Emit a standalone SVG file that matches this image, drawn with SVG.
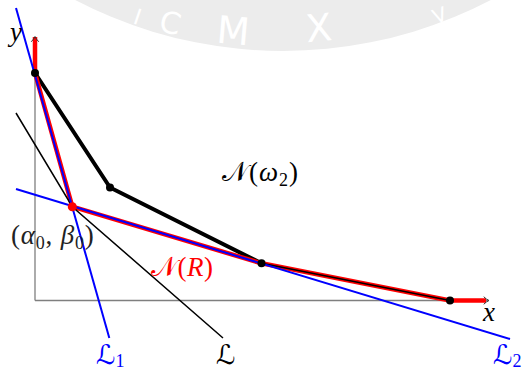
<svg xmlns="http://www.w3.org/2000/svg" width="522" height="374" viewBox="0 0 522 374">
<style>
.wm{font-family:"DejaVu Sans",sans-serif;fill:#ffffff;text-anchor:middle}
.axis{stroke:#7f7f7f;stroke-width:1.3;fill:none}
.arr{stroke:#333;stroke-width:1;fill:none;stroke-linecap:round}
.nr{stroke:#ff0000;stroke-width:4.5;fill:none;stroke-linejoin:round}
.nw{stroke:#000;stroke-width:4;fill:none;stroke-linejoin:round}
.thin{stroke:#000;stroke-width:1.5;fill:none}
.blue{stroke:#0000ff;stroke-width:2;fill:none}
.lab{font-family:"Liberation Serif","DejaVu Serif",serif;font-size:27px;font-style:italic}
.cal{font-family:"DejaVu Serif","DejaVu Sans",serif;font-style:normal}
.up{font-style:normal}
</style>
<rect width="522" height="374" fill="#ffffff"/>
<g id="watermark">
<circle cx="283" cy="-398" r="449" fill="#ececec"/>
<text class="wm" font-size="22" transform="translate(135,24) rotate(19)">I</text>
<text class="wm" font-size="30" transform="translate(168,33) rotate(13)">C</text>
<text class="wm" font-size="38" transform="translate(232,44) rotate(5)">M</text>
<text class="wm" font-size="38" transform="translate(320,41) rotate(-5)">X</text>
<text class="wm" font-size="20" transform="translate(442,22) rotate(-20)">V</text>
</g>
<g id="axes">
<line class="axis" x1="35" y1="300.5" x2="35" y2="37"/>
<line class="axis" x1="35" y1="300.5" x2="488" y2="300.5"/>
</g>
<g id="connectors">
<polyline id="N_omega2" class="nw" points="35,73 110,187.5 261.5,263.3"/>
<polyline id="N_R" class="nr" points="35,37 35,73 72.3,206.7 261.5,263.3 450,300.5 486,300.5"/>
<line class="thin" x1="261.5" y1="263.3" x2="450" y2="300.5" stroke-width="1.2"/>
<polyline id="L" class="thin" points="16,113 72.3,206.7 223,338"/>
<line id="L1" class="blue" x1="16" y1="8" x2="109.3" y2="338"/>
<line id="L2" class="blue" x1="16" y1="189" x2="510" y2="339"/>
<path class="arr" d="M31.5,41.5 Q34,39 35,36.5 Q36,39 38.5,41.5"/>
<path class="arr" d="M484,297 Q486.5,299.5 489,300.5 Q486.5,301.5 484,304"/>
</g>
<g id="points">
<circle cx="35" cy="73" r="4" fill="#000"/>
<circle cx="110" cy="187.5" r="4" fill="#000"/>
<circle cx="261.5" cy="263.3" r="4" fill="#000"/>
<circle cx="450" cy="300.5" r="4" fill="#000"/>
<circle id="alpha0beta0" cx="72.3" cy="206.7" r="4.5" fill="#ff0000"/>
</g>
<g id="labels">
<text class="lab" x="10" y="41">y</text>
<text class="lab" x="483" y="321">x</text>
<text class="lab" x="222" y="181" letter-spacing="1"><tspan class="cal">𝒩</tspan><tspan class="up">(</tspan>ω<tspan class="up" font-size="18" dy="5">2</tspan><tspan class="up" dy="-5">)</tspan></text>
<text class="lab" x="11" y="244" fill="#222" letter-spacing="0.8"><tspan class="up">(</tspan>α<tspan class="up" font-size="18" dy="5">0</tspan><tspan class="up" dy="-5">, </tspan>β<tspan class="up" font-size="18" dy="5">0</tspan><tspan class="up" dy="-5">)</tspan></text>
<text class="lab" x="151" y="276" fill="#ff0000" letter-spacing="0.5"><tspan class="cal">𝒩</tspan><tspan class="up">(</tspan>R<tspan class="up">)</tspan></text>
<text class="lab" x="96" y="364" fill="#0000ff"><tspan class="cal">ℒ</tspan><tspan class="up" font-size="18" dy="3">1</tspan></text>
<text class="lab" x="216" y="364"><tspan class="cal">ℒ</tspan></text>
<text class="lab" x="493" y="364" fill="#0000ff"><tspan class="cal">ℒ</tspan><tspan class="up" font-size="18" dy="3">2</tspan></text>
</g>
</svg>
